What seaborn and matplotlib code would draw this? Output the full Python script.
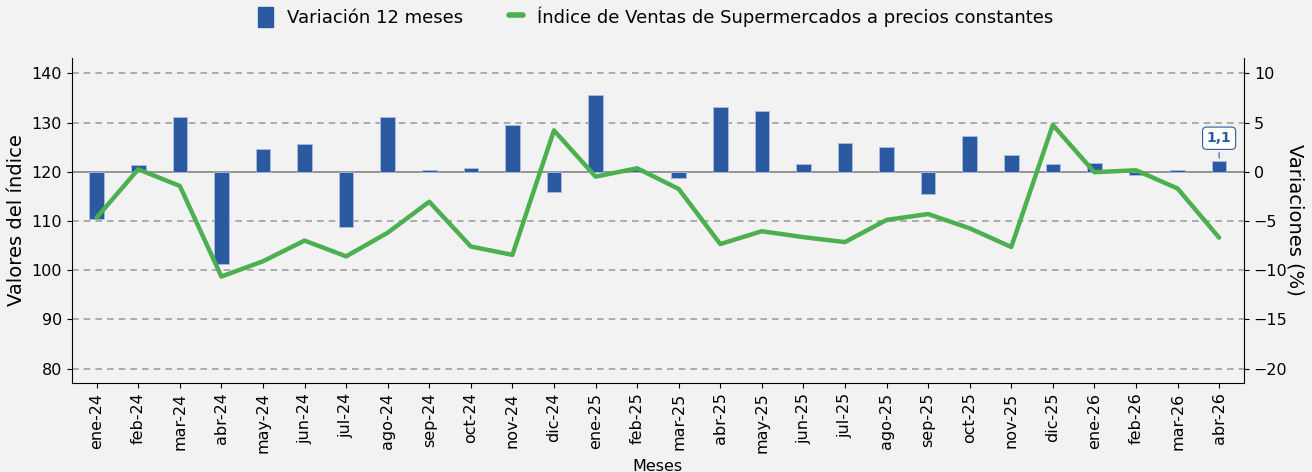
import numpy as np
import pandas as pd
import matplotlib
matplotlib.use("Agg")
import matplotlib.pyplot as plt
import seaborn as sns
from matplotlib.patches import Patch
from matplotlib.lines import Line2D

# Datos
meses = ["ene-24", "feb-24", "mar-24", "abr-24", "may-24", "jun-24", "jul-24",
         "ago-24", "sep-24", "oct-24", "nov-24", "dic-24", "ene-25", "feb-25",
         "mar-25", "abr-25", "may-25", "jun-25", "jul-25", "ago-25", "sep-25",
         "oct-25", "nov-25", "dic-25", "ene-26", "feb-26", "mar-26", "abr-26"]

variacion_12m = [-4.8, 0.7, 5.6, -9.4, 2.3, 2.8, -5.6,
                 5.6, 0.2, 0.4, 4.7, -2.1, 7.8, 0.3,
                 -0.6, 6.6, 6.2, 0.8, 2.9, 2.5, -2.3,
                 3.6, 1.7, 0.8, 0.9, -0.3, 0.2, 1.1]

indice_ventas = [110.7, 120.5, 117.1, 98.7, 101.8, 106.0, 102.8,
                 107.6, 113.9, 104.8, 103.1, 128.4, 119.0, 120.7,
                 116.5, 105.3, 107.9, 106.7, 105.7, 110.2, 111.4,
                 108.5, 104.7, 129.5, 119.9, 120.3, 116.6, 106.6]

BG = "#f2f2f2"
AZUL = "#2b5aa0"
VERDE = "#4caf50"

sns.set_style("ticks")
plt.rcParams["font.family"] = ["DejaVu Sans"]
plt.rcParams["text.color"] = "black"
plt.rcParams["axes.labelcolor"] = "black"
plt.rcParams["xtick.color"] = "black"
plt.rcParams["ytick.color"] = "black"
plt.rcParams["axes.edgecolor"] = "black"

df = pd.DataFrame({"mes": meses, "var": variacion_12m, "idx": indice_ventas})
df["pos"] = np.arange(len(df))

fig = plt.figure(figsize=(13.12, 4.72), dpi=100, facecolor=BG)
ax1 = fig.add_axes([0.0547, 0.189, 0.8935, 0.688])
ax2 = ax1.twinx()

# barras en el eje derecho, detrás de la línea
ax1.set_zorder(2)
ax1.patch.set_visible(False)
ax2.set_zorder(1)
ax2.patch.set_facecolor(BG)

sns.barplot(data=df, x="pos", y="var", ax=ax2, native_scale=True, width=0.35,
            color=AZUL, edgecolor="#a9bde0", linewidth=0.6, saturation=1)
ax2.axhline(0, color="#8c8c8c", lw=1.3, zorder=0.5)

sns.lineplot(data=df, x="pos", y="idx", ax=ax1, color=VERDE, lw=3.2)

ax1.set_xlim(-0.6, 27.6)
ax1.set_ylim(77.1, 143.1)
ax2.set_ylim(-21.45, 11.55)
ax1.set_yticks(np.arange(80, 141, 10))
ax2.set_yticks(np.arange(-20, 11, 5))
ax1.set_xticks(df["pos"])
ax1.set_xticklabels(meses, rotation=90)

# rejilla discontinua
for y in np.arange(-20, 11, 5):
    if y != 0:
        ax2.axhline(y, color="#a0a0a0", lw=1.2, ls=(0, (4, 3)), zorder=0.2)

ax1.tick_params(labelsize=11.5)
ax2.tick_params(labelsize=11.5)
ax1.set_xlabel("Meses", fontsize=11.5)
ax1.set_ylabel("Valores del índice", fontsize=14)
ax2.set_ylabel("Variaciones (%)", fontsize=14, rotation=270, labelpad=12)
ax2.set_xlabel("")

for ax in (ax1, ax2):
    ax.spines["top"].set_visible(False)
ax1.spines["right"].set_visible(False)
ax2.spines["left"].set_visible(False)
ax2.spines["bottom"].set_visible(False)

# etiqueta del último dato
ult = len(df) - 1
ax2.annotate(f"{variacion_12m[ult]:.1f}".replace(".", ","),
             xy=(ult, variacion_12m[ult]), xytext=(ult, 3.4),
             ha="center", va="center", fontsize=10, fontweight="bold", color=AZUL,
             bbox=dict(boxstyle="round,pad=0.3", fc="white", ec=AZUL, lw=0.8),
             arrowprops=dict(arrowstyle="-", color=AZUL, lw=0.8))

handles = [Patch(facecolor=AZUL, edgecolor=AZUL),
           Line2D([0], [0], color=VERDE, lw=4)]
fig.legend(handles, ["Variación 12 meses",
                     "Índice de Ventas de Supermercados a precios constantes"],
           loc="upper center", bbox_to_anchor=(0.5, 1.02), ncol=2, frameon=False,
           fontsize=13, handlelength=0.8, handleheight=1.3, columnspacing=2.5)

fig.savefig("out.png", dpi=100, facecolor=BG)
